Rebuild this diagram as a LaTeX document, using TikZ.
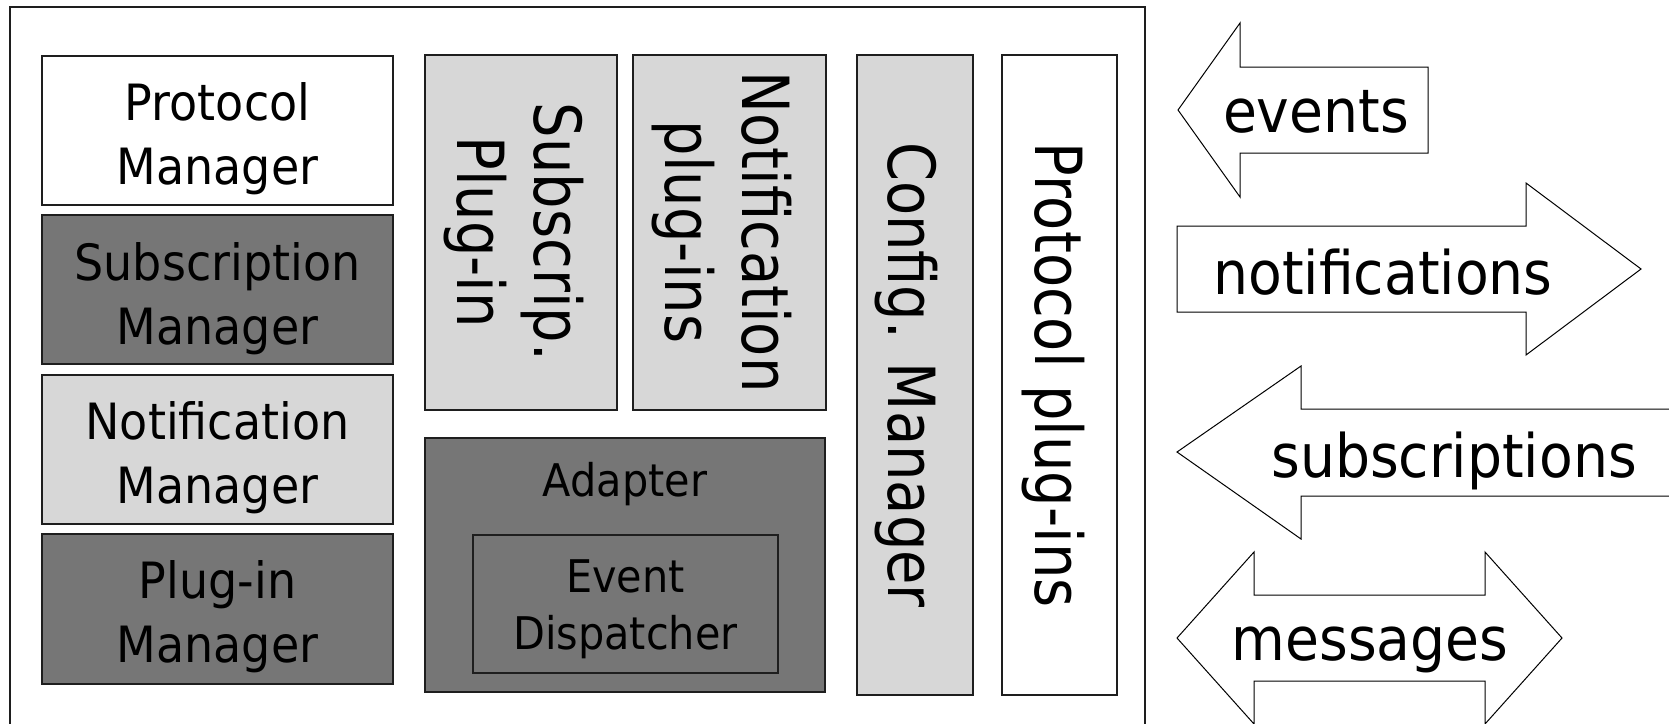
\documentclass[tikz,border=0pt]{standalone}
\usepackage{fontspec}
\setmainfont{DejaVu Sans}
\newfontfamily\hfont[FakeStretch=0.92]{DejaVu Sans}
\newfontfamily\vfont[FakeStretch=0.86]{DejaVu Sans}
\usetikzlibrary{calc}
\definecolor{lightfill}{RGB}{215,215,215}
\definecolor{darkfill}{RGB}{118,118,118}
\definecolor{edgecol}{RGB}{30,30,30}
\begin{document}
\begin{tikzpicture}[x=1pt,y=-1pt,
  box/.style={draw=edgecol, line width=1.6pt, inner sep=0pt, outer sep=0pt},
  hlbl/.style={font=\hfont\fontsize{50}{64}\selectfont, align=center, inner sep=0pt},
  slbl/.style={font=\hfont\fontsize{45}{57}\selectfont, align=center, inner sep=0pt},
  vlbl/.style={font=\vfont\fontsize{65}{77}\selectfont, align=center, inner sep=0pt, rotate=-90},
  albl/.style={font=\hfont\fontsize{60}{72}\selectfont, inner sep=0pt, anchor=base},
  bigarrow/.style={draw=black, line width=1pt, fill=white}
]
\useasboundingbox (0,0) rectangle (1669,723);
\fill[white] (0,0) rectangle (1669,723);
\clip (0,0) rectangle (1669,723);

% outer frame
\draw[edgecol, line width=1.8pt] (10,745) -- (10,7) -- (1145,7) -- (1145,745);

% left column
\node[box, fill=white, minimum width=351pt, minimum height=149pt] (pm) at (217.5,130.5) {};
\node[box, fill=darkfill, minimum width=351pt, minimum height=149pt] (sm) at (217.5,289.5) {};
\node[box, fill=lightfill, minimum width=351pt, minimum height=149pt] (nm) at (217.5,449.5) {};
\node[box, fill=darkfill, minimum width=351pt, minimum height=150pt] (plm) at (217.5,609) {};
\node[hlbl] (pmt) at ($(pm.center)+(0,8)$) {Protocol\\Manager};
\node[hlbl] (smt) at ($(sm.center)+(0,9)$) {Subscription\\Manager};
\node[hlbl] (nmt) at ($(nm.center)+(0,8)$) {Notification\\Manager};
\node[hlbl] (plmt) at ($(plm.center)+(0,8)$) {Plug-in\\Manager};

% plug-in columns
\node[box, fill=lightfill, minimum width=192pt, minimum height=355pt] (spi) at (521,232.5) {};
\node[box, fill=lightfill, minimum width=193pt, minimum height=355pt] (npi) at (729.5,232.5) {};
\node[vlbl] (spit) at (514,232) {Subscrip.\\Plug-in};
\node[vlbl] (npit) at (722,232) {Notification\\plug-ins};

% adapter
\node[box, fill=darkfill, minimum width=400pt, minimum height=254pt] (ad) at (625,565) {};
\node[slbl] (adt) at (625,484.5) {Adapter};
\node[draw=edgecol, line width=1.3pt, fill=darkfill, inner sep=0pt, minimum width=305pt, minimum height=138pt] (ed) at (625.5,604) {};
\node[slbl] (edt) at (625.5,609) {Event\\Dispatcher};

% config and protocol plug-ins
\node[box, fill=lightfill, minimum width=116pt, minimum height=640pt] (cm) at (915,375) {};
\node[box, fill=white, minimum width=115pt, minimum height=640pt] (ppi) at (1059.5,375) {};
\node[vlbl, anchor=base] (cmt) at (888,375) {Config. Manager};
\node[vlbl, anchor=base] (ppit) at (1035,375) {Protocol plug-ins};

% arrows
\draw[bigarrow] (1178,110) -- (1240,23) -- (1240,67) -- (1428,67) -- (1428,153) -- (1240,153) -- (1240,197) -- cycle;
\node[albl] (ev) at (1316,132) {events};

\draw[bigarrow] (1177,226) -- (1526,226) -- (1526,183) -- (1641,269) -- (1526,355) -- (1526,312) -- (1177,312) -- cycle;
\node[albl] (no) at (1383,294) {notifications};

\draw[bigarrow] (1177,452) -- (1301,366) -- (1301,409) -- (1690,409) -- (1690,496) -- (1301,496) -- (1301,539) -- cycle;
\node[albl] (su) at (1454,477) {subscriptions};

\draw[bigarrow] (1177,638) -- (1254,552) -- (1254,595) -- (1485,595) -- (1485,552) -- (1562,638) -- (1485,724) -- (1485,681) -- (1254,681) -- (1254,724) -- cycle;
\node[albl] (me) at (1370,660) {messages};
\end{tikzpicture}
\end{document}
